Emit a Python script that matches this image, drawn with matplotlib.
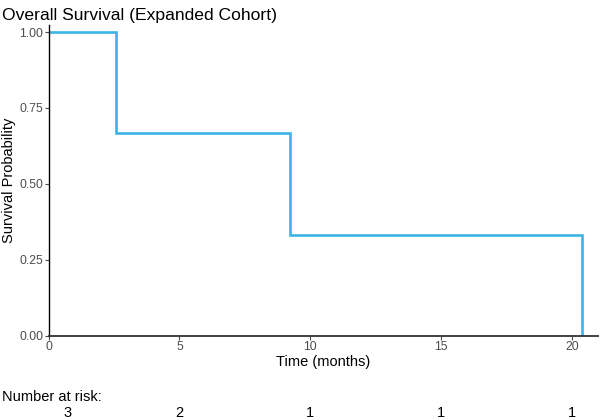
import matplotlib

matplotlib.use("Agg")
import matplotlib.pyplot as plt  # noqa: E402

# Kaplan-Meier step data (expanded cohort)
times = [0.0, 2.57, 9.21, 20.37]
survival = [1.0, 0.667, 0.333, 0.0]
risk_times = [0, 5, 10, 15, 20]
risk_counts = [3, 2, 1, 1, 1]
x_ticks = [0, 5, 10, 15, 20]
y_ticks = [0.0, 0.25, 0.5, 0.75, 1.0]

line_color = "#3DB4E6"
tick_color = "#4D4D4D"

plt.rcParams["font.family"] = ["Liberation Sans", "DejaVu Sans"]

fig = plt.figure(figsize=(6, 4.2), dpi=100)
ax = fig.add_axes([0.081, 0.2007, 0.916, 0.739])

ax.step(times, survival, where="post", color=line_color, linewidth=1.9, solid_joinstyle="miter")

ax.set_xlim(0, 21.0)
ax.set_ylim(0, 1.022)
ax.set_xticks(x_ticks)
ax.set_yticks(y_ticks)
ax.set_yticklabels([f"{v:.2f}" for v in y_ticks])
ax.tick_params(axis="both", colors=tick_color, labelsize=8.8, length=3, width=0.8, pad=1)
for side in ("top", "right"):
    ax.spines[side].set_visible(False)
ax.spines["left"].set_color("black")
ax.spines["left"].set_linewidth(1.0)
ax.spines["bottom"].set_color("#333333")
ax.spines["bottom"].set_linewidth(1.3)

ax.set_xlabel("Time (months)", fontsize=10.5, labelpad=1)
ax.set_ylabel("Survival Probability", fontsize=10.5, labelpad=2)
ax.set_title("Overall Survival (Expanded Cohort)", fontsize=12.6, loc="left", x=-0.085, pad=4)

# number-at-risk table below the plot
fig.text(0.003, 0.055, "Number at risk:", fontsize=10.5, ha="left", va="center")
for t, n in zip(risk_times, risk_counts):
    xpos = max(t, 0.73)
    ax.text(xpos, -0.25, str(n), transform=ax.get_xaxis_transform(),
            fontsize=10.5, ha="center", va="center", clip_on=False)

fig.savefig("out.png", dpi=100)
